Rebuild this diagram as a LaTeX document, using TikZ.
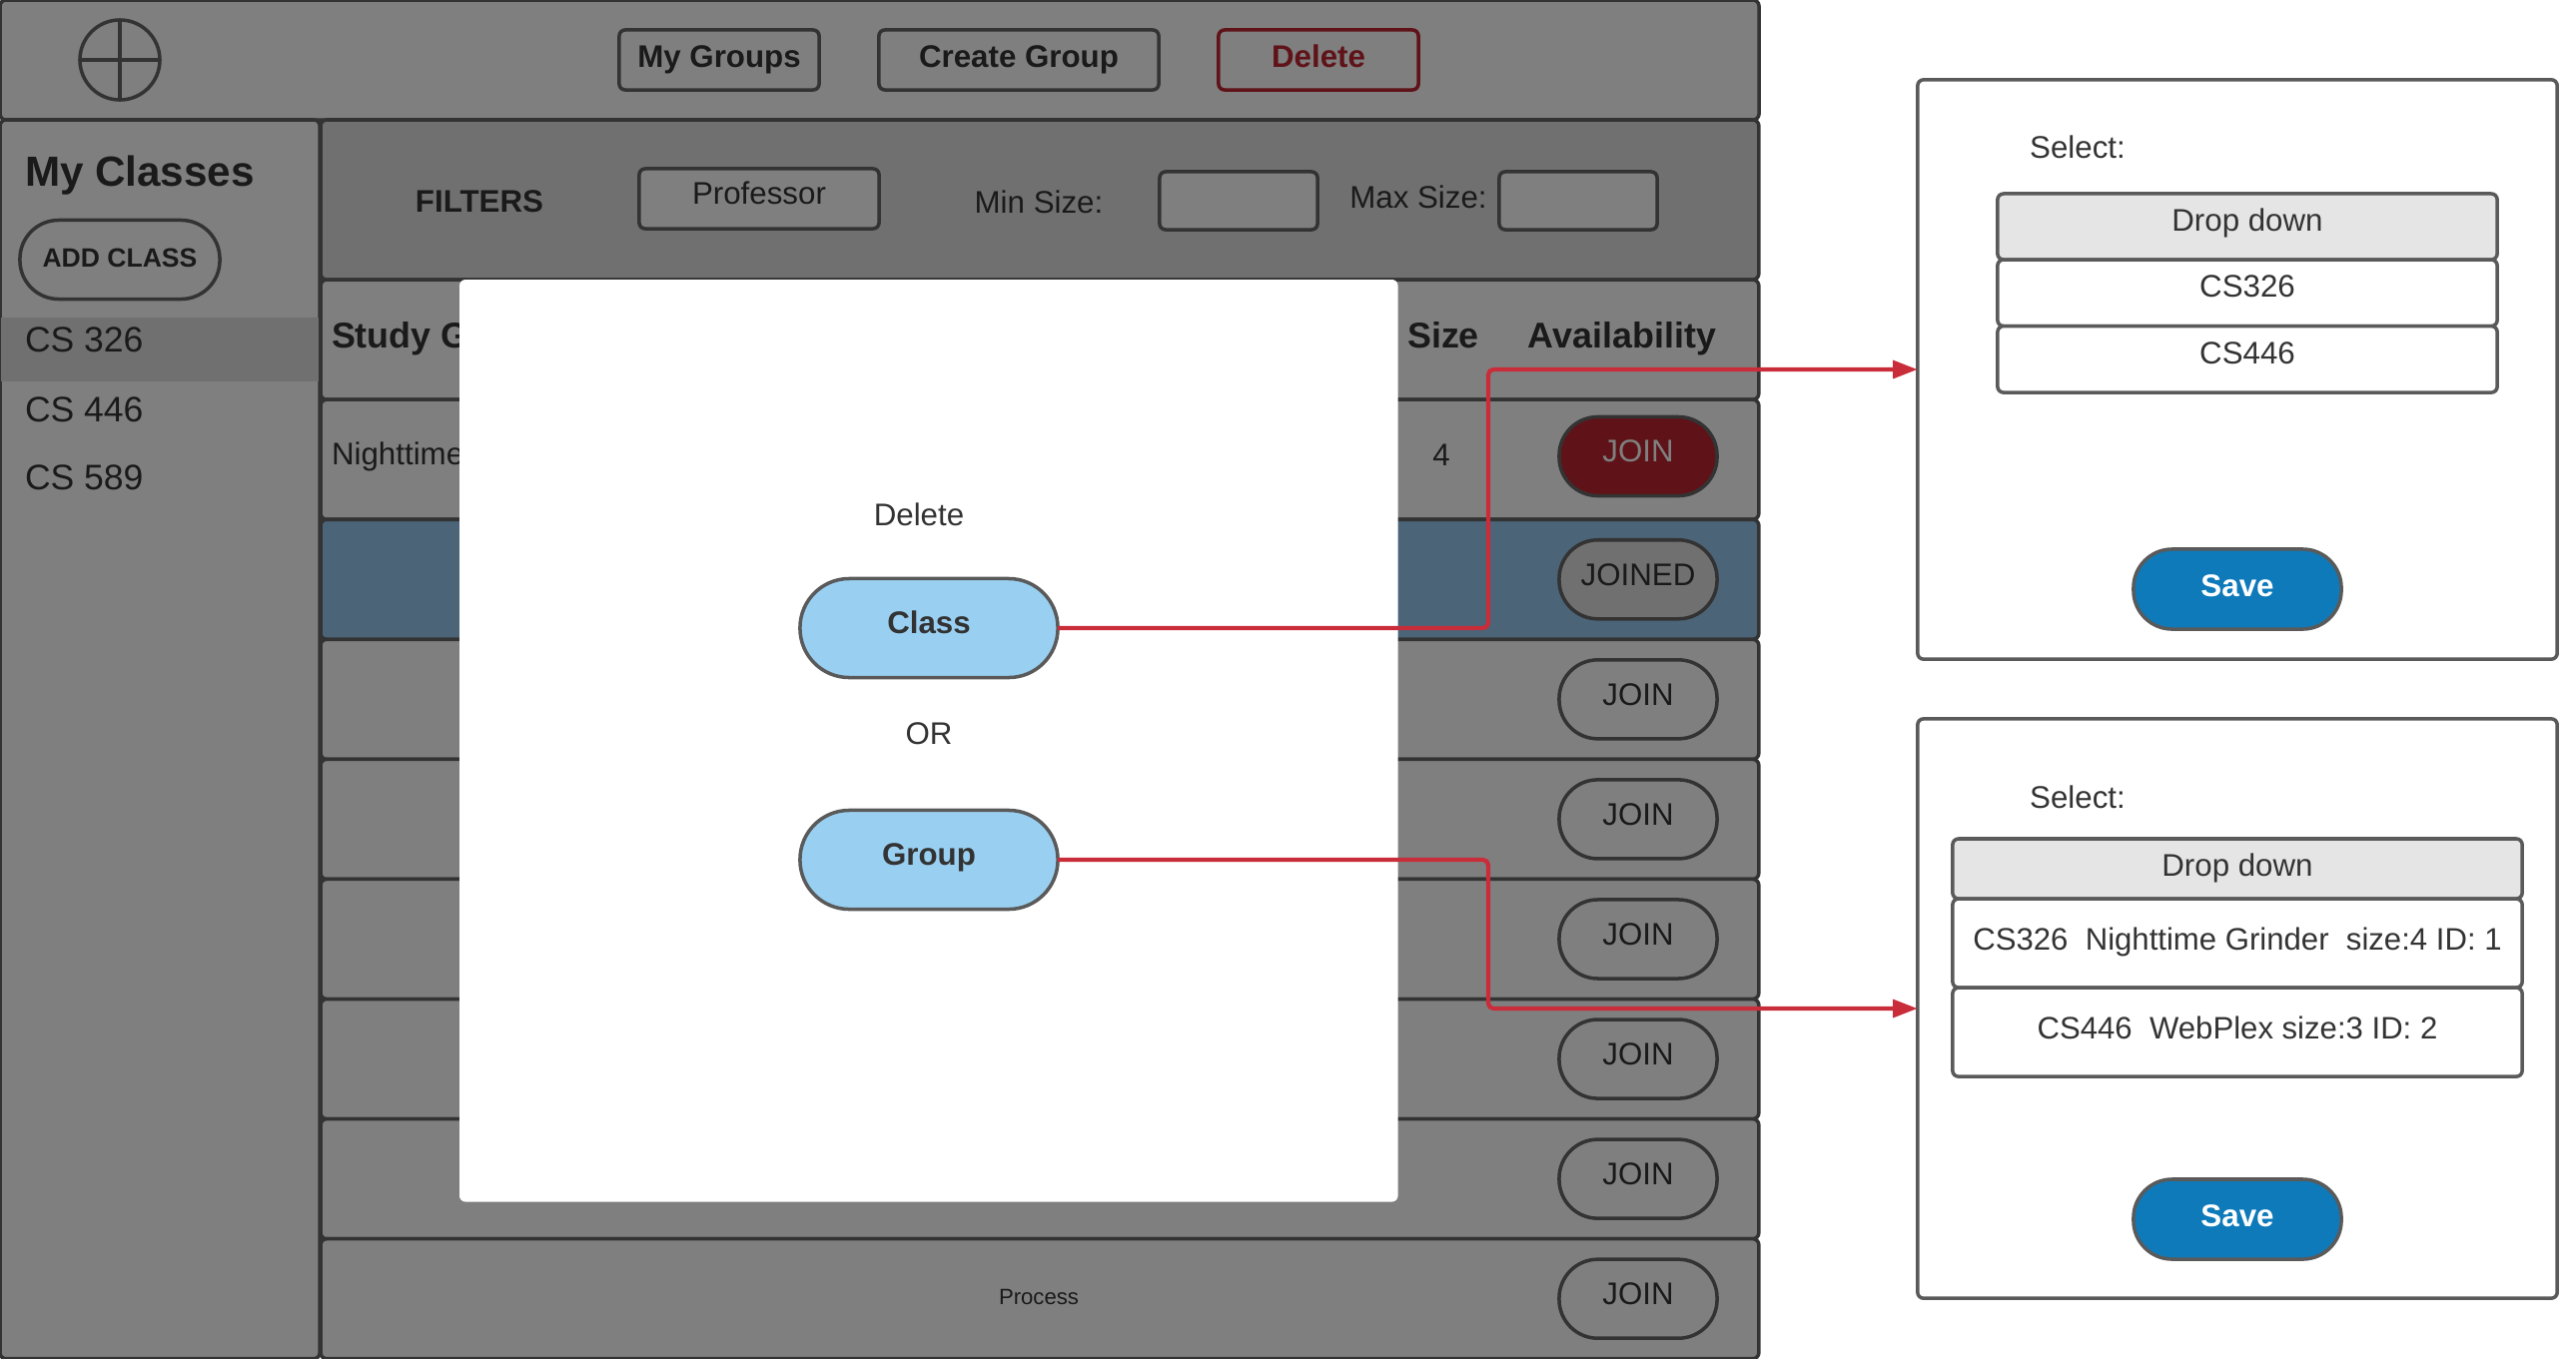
\documentclass[tikz,border=0pt]{standalone}
\usepackage{fontspec}
\setmainfont{Liberation Sans}
\usetikzlibrary{arrows.meta,positioning}
\definecolor{dimgray}{RGB}{127,127,127}
\definecolor{darkgray}{RGB}{112,112,112}
\definecolor{edgegray}{RGB}{51,51,51}
\definecolor{inkgray}{RGB}{26,26,26}
\definecolor{selectblue}{RGB}{75,100,120}
\definecolor{dimred}{RGB}{95,19,24}
\definecolor{linkred}{RGB}{201,45,57}
\definecolor{softsky}{RGB}{153,208,242}
\definecolor{saveblue}{RGB}{14,122,186}
\definecolor{lightedge}{RGB}{90,90,90}

\begin{document}
\begin{tikzpicture}[
    x=0.01cm, y=-0.01cm,
    node distance=0pt,
    every node/.style={font=\fontsize{8.9}{11}\selectfont, text=inkgray, outer sep=0pt, inner sep=0pt},
    panel/.style={draw=edgegray, line width=1pt, fill=dimgray, rounded corners=1.7pt},
    headerbox/.style={panel, anchor=north west},
    tablerow/.style={panel, minimum width=14.39cm, minimum height=1.2cm},
    navbtn/.style={draw=edgegray, line width=1pt, rounded corners=1.7pt, minimum height=0.6cm, text height=8pt, text depth=3.8pt, font=\fontsize{8.9}{11}\selectfont\bfseries},
    fieldbox/.style={draw=edgegray, line width=1pt, rounded corners=1.7pt, minimum width=1.58cm, minimum height=0.58cm},
    pill/.style={draw=edgegray, line width=1pt, rounded corners=11pt, minimum width=1.58cm, minimum height=0.79cm, text height=8pt, text depth=4.7pt},
    heading/.style={font=\fontsize{10.2}{12}\selectfont\bfseries, text height=7.6pt, text depth=2.2pt},
    classitem/.style={font=\fontsize{10.1}{12}\selectfont, anchor=west},
    sheet/.style={draw=lightedge, line width=1pt, fill=white, rounded corners=1.7pt, minimum width=6.4cm, minimum height=5.8cm},
    ddhead/.style={draw=lightedge, line width=1pt, fill=black!10, rounded corners=1.7pt, text=edgegray, text height=8pt, text depth=5.5pt},
    dditem/.style={draw=lightedge, line width=1pt, fill=white, rounded corners=1.7pt, text=edgegray, text height=8pt, text depth=5.5pt},
    savebtn/.style={draw=lightedge, line width=1pt, fill=saveblue, rounded corners=11pt, minimum width=2.08cm, minimum height=0.8cm, text=white, text height=8pt, text depth=3.8pt, font=\fontsize{8.9}{11}\selectfont\bfseries},
    choice/.style={draw=lightedge, line width=1pt, fill=softsky, rounded corners=14pt, minimum width=2.58cm, minimum height=0.99cm, text=edgegray, text height=8pt, text depth=4.7pt, font=\fontsize{8.9}{11}\selectfont\bfseries},
    link/.style={draw=linkred, line width=1.2pt, rounded corners=1.5pt, -{Triangle[length=7pt,width=5pt]}}
  ]
    \useasboundingbox (0,0) rectangle (2579,1360);

    % top bar
    \node[headerbox, minimum width=17.6cm, minimum height=1.2cm] (topbar) at (0,0) {};
    \node[draw=edgegray, line width=1pt, circle, minimum size=0.8cm] (logo) at (120,60) {};
    \draw[edgegray, line width=1pt] (logo.north) -- (logo.south);
    \draw[edgegray, line width=1pt] (logo.west) -- (logo.east);
    \node[navbtn, minimum width=2cm] (mygroups) at (720,60) {My Groups};
    \node[navbtn, minimum width=2.8cm] (creategroup) at (1020,60) {Create Group};
    \node[navbtn, minimum width=2cm, draw=dimred, text=dimred] (deletebtn) at (1320,60) {Delete};

    % sidebar
    \node[headerbox, minimum width=3.2cm, minimum height=12.4cm] (sidebar) at (0,120) {};
    \node[anchor=west, font=\fontsize{12}{15}\selectfont\bfseries] (myclasses) at (25,176) {My Classes};
    \node[pill, minimum width=2cm, font=\fontsize{7.55}{9}\selectfont\bfseries, text depth=3.8pt] (addclass) at (120,260) {ADD CLASS};
    \node[fill=darkgray, anchor=north west, minimum width=3.18cm, minimum height=0.64cm] (activeclass) at (1,318) {};
    \node[classitem] (csa) at (25,340) {CS 326};
    \node[classitem] (csb) at (25,410) {CS 446};
    \node[classitem] (csc) at (25,478) {CS 589};

    % filters
    \node[headerbox, minimum width=14.39cm, minimum height=1.6cm, fill=darkgray] (filters) at (321,120) {};
    \node[font=\fontsize{8.9}{11}\selectfont\bfseries] (filterlabel) at (480,202) {FILTERS};
    \node[fieldbox, minimum width=2.4cm, minimum height=0.6cm, fill=dimgray, text height=8pt, text depth=5pt] (professor) at (760,199) {Professor};
    \node (minlabel) at (1040,202) {Min Size:};
    \node[fieldbox, fill=dimgray] (minbox) at (1240,201) {};
    \node (maxlabel) at (1420,197) {Max Size:};
    \node[fieldbox, fill=dimgray] (maxbox) at (1580,201) {};

    % table
    \node[tablerow, below=of filters] (rowhead) {};
    \node[tablerow, below=of rowhead] (rowa) {};
    \node[tablerow, below=of rowa, fill=selectblue] (rowb) {};
    \node[tablerow, below=of rowb] (rowc) {};
    \node[tablerow, below=of rowc] (rowd) {};
    \node[tablerow, below=of rowd] (rowe) {};
    \node[tablerow, below=of rowe] (rowf) {};
    \node[tablerow, below=of rowf] (rowg) {};
    \node[tablerow, below=of rowg] (rowh) {};
    \node[heading, anchor=west] (studyhead) at (332,339) {Study G};
    \node[heading] (sizehead) at (1445,339) {Size};
    \node[heading] (availhead) at (1624,339) {Availability};
    \node[anchor=west] (groupname) at (332,457) {Nighttime};
    \node (groupsize) at (1443,456) {4};
    \node[pill, fill=dimred, text=dimgray] (joina) at (1640,457) {JOIN};
    \node[pill, fill=darkgray] (joinb) at (joina |- rowb) {JOINED};
    \node[pill] (joinc) at (joina |- rowc) {JOIN};
    \node[pill] (joind) at (joina |- rowd) {JOIN};
    \node[pill] (joine) at (joina |- rowe) {JOIN};
    \node[pill] (joinf) at (joina |- rowf) {JOIN};
    \node[pill] (joing) at (joina |- rowg) {JOIN};
    \node[pill] (joinh) at (joina |- rowh) {JOIN};
    \node[font=\fontsize{6.3}{8}\selectfont] (process) at (1040,1299) {Process};

    % dialog
    \node[fill=white, anchor=north west, rounded corners=1.7pt, minimum width=9.39cm, minimum height=9.23cm] (dialog) at (460,280) {};
    \node[text=edgegray] (deletelabel) at (920,515) {Delete};
    \node[choice] (classbtn) at (930,629) {Class};
    \node[text=edgegray] (orlabel) at (930,735) {OR};
    \node[choice] (groupbtn) at (930,861) {Group};

    % right panels
    \node[sheet] (sheetclass) at (2240,370) {};
    \node[text=edgegray] (selectclass) at (2080,147) {Select:};
    \node[ddhead, minimum width=5cm, minimum height=0.66cm] (ddclass) at (2250,227) {Drop down};
    \node[dditem, minimum width=5cm, minimum height=0.665cm, below=of ddclass] (itemcsa) {CS326};
    \node[dditem, minimum width=5cm, minimum height=0.665cm, below=of itemcsa] (itemcsb) {CS446};
    \node[savebtn] (saveclass) at (2240,590) {Save};

    \node[sheet] (sheetgroup) at (2240,1010) {};
    \node[text=edgegray] (selectgroup) at (2080,798) {Select:};
    \node[ddhead, minimum width=5.7cm, minimum height=0.6cm, text depth=3.8pt] (ddgroup) at (2240,870) {Drop down};
    \node[dditem, minimum width=5.7cm, minimum height=0.89cm, below=of ddgroup, text depth=3.8pt, font=\fontsize{8.85}{11}\selectfont] (itemgroupa) {CS326~~Nighttime Grinder~~size:4 ID: 1};
    \node[dditem, minimum width=5.7cm, minimum height=0.89cm, below=of itemgroupa, text depth=3.8pt, font=\fontsize{8.85}{11}\selectfont] (itemgroupb) {CS446~~WebPlex size:3 ID: 2};
    \node[savebtn] (savegroup) at (2240,1221) {Save};

    % connectors
    \coordinate (bendclass) at (1490,500);
    \coordinate (bendgroup) at (1490,930);
    \draw[link] (classbtn.east) -| (bendclass) |- (sheetclass.west);
    \draw[link] (groupbtn.east) -| (bendgroup) |- (sheetgroup.west);
  \end{tikzpicture}
\end{document}
